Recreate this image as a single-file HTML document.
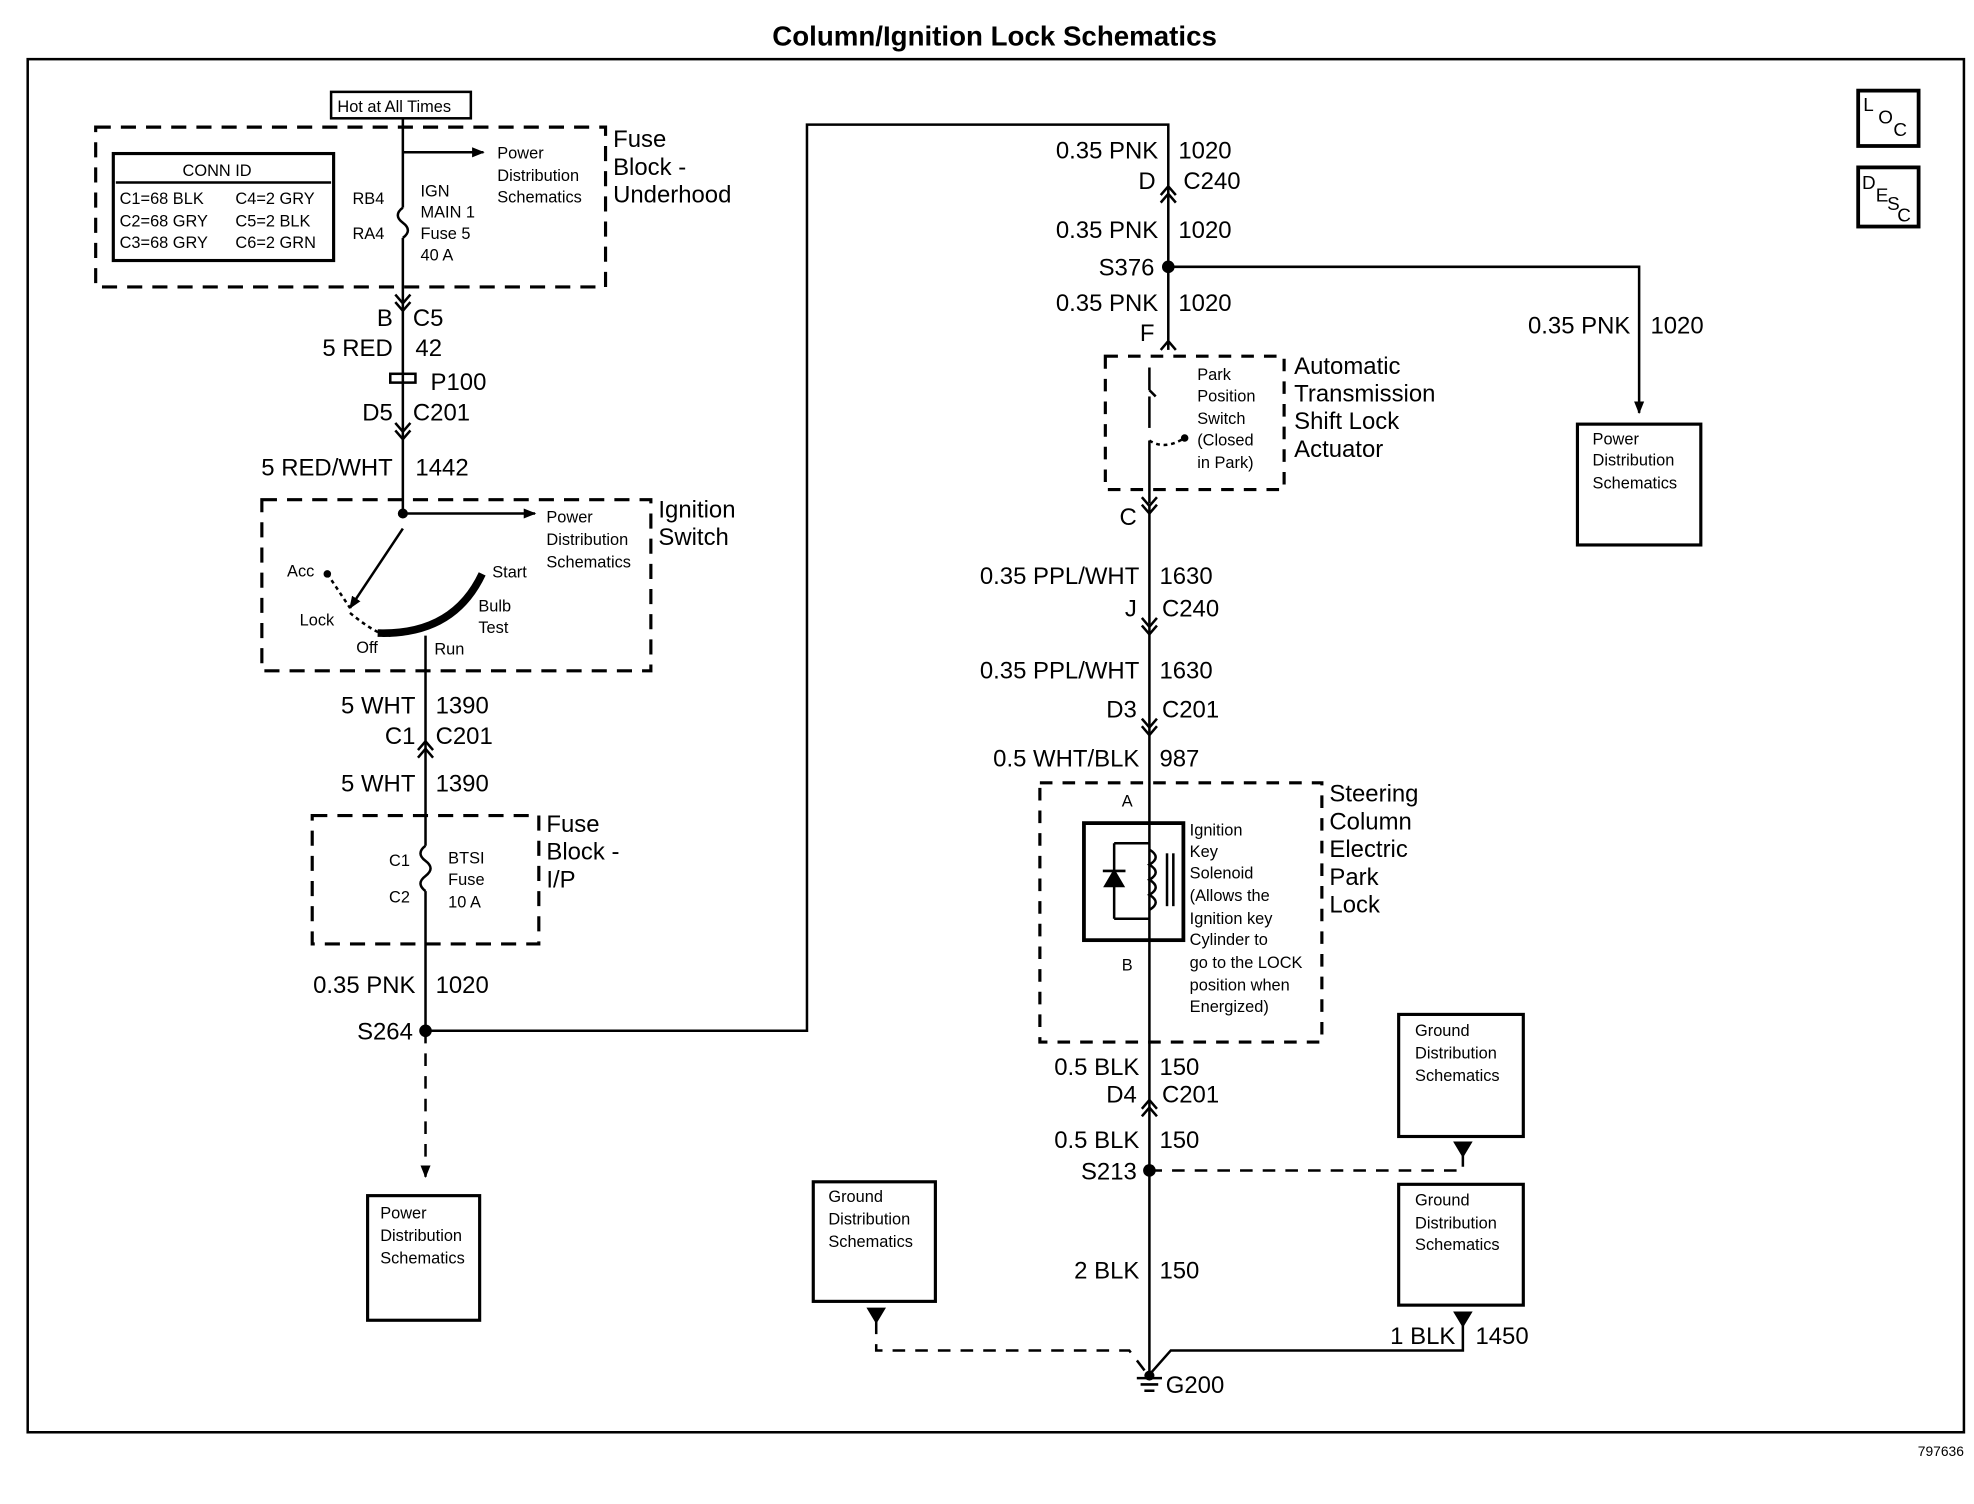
<!DOCTYPE html>
<html><head><meta charset="utf-8"><style>
html,body{margin:0;padding:0;background:#fff;}
svg{display:block;}
text{font-family:"Liberation Sans",Arial,sans-serif;fill:#000;}
.b{font-size:19px;}
.s{font-size:13px;}
.m{font-size:15px;}
</style></head><body>
<svg width="1974" height="1504" viewBox="0 0 1568 1195" preserveAspectRatio="none" xmlns="http://www.w3.org/2000/svg">
<defs>
<marker id="ar" markerWidth="10" markerHeight="10" refX="9" refY="5" orient="auto" markerUnits="userSpaceOnUse"><path d="M0,1 L10,5 L0,9 z" fill="#000"/></marker>
</defs>
<g stroke="#000" fill="none" stroke-width="2">
<rect x="22" y="47" width="1538" height="1091"/>
<rect x="1476" y="72" width="48" height="44" stroke-width="3"/>
<rect x="1476" y="133" width="48" height="47" stroke-width="3"/>
<!-- left -->
<rect x="263" y="73" width="111" height="21"/>
<rect x="76" y="101" width="405" height="127" stroke-dasharray="12,8" stroke-width="2.5"/>
<rect x="90" y="122" width="175" height="85" stroke-width="2.5"/>
<line x1="92" y1="145" x2="263" y2="145"/>
<line x1="320" y1="94" x2="320" y2="165"/>
<path d="M320,165 q-8,6 0,12 q8,6 0,12"/>
<line x1="320" y1="189" x2="320" y2="408" />
<line x1="320" y1="121" x2="384" y2="121" marker-end="url(#ar)"/>
<path d="M314,234 l6,7 l6,-7 M314,240 l6,7 l6,-7"/>
<rect x="310" y="297" width="20" height="7" stroke-width="2"/>
<path d="M314,336 l6,7 l6,-7 M314,342 l6,7 l6,-7"/>
<rect x="208" y="397" width="309" height="136" stroke-dasharray="12,8" stroke-width="2.5"/>
<line x1="320" y1="408" x2="425" y2="408" marker-end="url(#ar)"/>
<line x1="320" y1="420" x2="278" y2="483" marker-end="url(#ar)"/>
<path d="M278,487 Q300,505 310,505" stroke-dasharray="3,3"/>
<path d="M260,456 L278,483" stroke-dasharray="3,3"/>
<path d="M300,503 Q360,505 383,456" stroke-width="6"/>
<line x1="338" y1="505" x2="338" y2="672"/>
<path d="M332,596 l6,-7 l6,7 M332,602 l6,-7 l6,7"/>
<rect x="248" y="648" width="180" height="102" stroke-dasharray="12,8" stroke-width="2.5"/>
<path d="M338,672 q-8,6 0,12 q8,6 0,12 q-8,6 0,12"/>
<line x1="338" y1="708" x2="338" y2="819"/>
<polyline points="338,819 641,819 641,99 928,99 928,278"/>
<line x1="338" y1="819" x2="338" y2="935" stroke-dasharray="10,8" marker-end="url(#ar)"/>
<rect x="292" y="950" width="89" height="99" stroke-width="2.5"/>
<!-- right -->
<path d="M922,155 l6,-7 l6,7 M922,161 l6,-7 l6,7"/>
<polyline points="928,212 1302,212 1302,328" marker-end="url(#ar)"/>
<rect x="1253" y="337" width="98" height="96" stroke-width="2.5"/>
<path d="M922,278 l6,-7 l6,7"/>
<rect x="878" y="283" width="142" height="106" stroke-dasharray="10,8" stroke-width="2.5"/>
<line x1="913" y1="292" x2="913" y2="310"/>
<line x1="913" y1="315" x2="913" y2="340"/>
<path d="M913,310 l5,5" />
<path d="M913,350 q12,8 28,-2" stroke-dasharray="3,3"/>
<line x1="913" y1="350" x2="913" y2="400"/>
<path d="M907,395 l6,7 l6,-7 M907,401 l6,7 l6,-7"/>
<line x1="913" y1="402" x2="913" y2="648"/>
<path d="M907,491 l6,7 l6,-7 M907,497 l6,7 l6,-7"/>
<path d="M907,571 l6,7 l6,-7 M907,577 l6,7 l6,-7"/>
<rect x="826" y="622" width="224" height="206" stroke-dasharray="10,8" stroke-width="2.5"/>
<rect x="861" y="654" width="79" height="93" stroke-width="3"/>
<line x1="913" y1="648" x2="913" y2="1093"/>
<line x1="885" y1="670" x2="913" y2="670"/><line x1="885" y1="670" x2="885" y2="730"/><line x1="885" y1="730" x2="913" y2="730"/>
<path d="M878,704 l7,-12 l7,12 z M876,692 h18" fill="#000"/>
<path d="M913,675 q10,6 0,12 q10,6 0,12 q10,6 0,12 q10,6 0,12"/>
<line x1="927" y1="678" x2="927" y2="720"/><line x1="932" y1="678" x2="932" y2="720"/>
<path d="M907,881 l6,-7 l6,7 M907,887 l6,-7 l6,7"/>
<polyline points="913,930 1162,930 1162,912" stroke-dasharray="10,8"/>
<path d="M1156,908 h12 l-6,10 z" fill="#000"/>
<rect x="1111" y="806" width="99" height="97" stroke-width="2.5"/>
<rect x="1111" y="941" width="99" height="96" stroke-width="2.5"/>
<rect x="646" y="939" width="97" height="95" stroke-width="2.5"/>
<path d="M690,1040 h12 l-6,10 z" fill="#000"/>
<polyline points="696,1050 696,1073 897,1073 910,1090" stroke-dasharray="10,8"/>
<path d="M1156,1043 h12 l-6,10 z" fill="#000"/>
<polyline points="1162,1050 1162,1073 930,1073 915,1090"/>
<line x1="903" y1="1095" x2="923" y2="1095"/><line x1="906" y1="1100" x2="920" y2="1100"/><line x1="909" y1="1105" x2="917" y2="1105"/>
</g>
<g fill="#000"><circle cx="320" cy="408" r="4"/><circle cx="338" cy="819" r="5"/><circle cx="928" cy="212" r="5"/><circle cx="913" cy="930" r="5"/><circle cx="913" cy="1093" r="4"/><circle cx="260" cy="456" r="3"/><circle cx="941" cy="348" r="3"/></g>
<text x="790" y="36" text-anchor="middle" style="font-size:22px;font-weight:bold">Column/Ignition Lock Schematics</text>
<text x="1560" y="1157" text-anchor="end" style="font-size:11px">797636</text>
<text x="1480" y="88" class="m">L</text><text x="1492" y="98" class="m">O</text><text x="1504" y="108" class="m">C</text>
<text x="1479" y="150" class="m">D</text><text x="1490" y="160" class="m">E</text><text x="1499" y="167" class="m">S</text><text x="1507" y="176" class="m">C</text>
<g class="s">
<text x="268" y="89">Hot at All Times</text>
<text x="145" y="140">CONN ID</text>
<text x="95" y="162">C1=68 BLK</text><text x="187" y="162">C4=2 GRY</text>
<text x="95" y="180">C2=68 GRY</text><text x="187" y="180">C5=2 BLK</text>
<text x="95" y="197">C3=68 GRY</text><text x="187" y="197">C6=2 GRN</text>
<text x="280" y="162">RB4</text><text x="280" y="190">RA4</text>
<text x="334" y="156">IGN</text><text x="334" y="173">MAIN 1</text><text x="334" y="190">Fuse 5</text><text x="334" y="207">40 A</text>
<text x="395" y="126">Power</text><text x="395" y="144">Distribution</text><text x="395" y="161">Schematics</text>
<text x="434" y="415">Power</text><text x="434" y="433">Distribution</text><text x="434" y="451">Schematics</text>
<text x="228" y="458">Acc</text><text x="391" y="459">Start</text><text x="238" y="497">Lock</text><text x="380" y="486">Bulb</text><text x="380" y="503">Test</text><text x="283" y="519">Off</text><text x="345" y="520">Run</text>
<text x="309" y="688">C1</text><text x="309" y="717">C2</text>
<text x="356" y="686">BTSI</text><text x="356" y="703">Fuse</text><text x="356" y="721">10 A</text>
<text x="302" y="968">Power</text><text x="302" y="986">Distribution</text><text x="302" y="1004">Schematics</text>
<text x="951" y="302">Park</text><text x="951" y="319">Position</text><text x="951" y="337">Switch</text><text x="951" y="354">(Closed</text><text x="951" y="372">in Park)</text>
<text x="1265" y="353">Power</text><text x="1265" y="370">Distribution</text><text x="1265" y="388">Schematics</text>
<text x="891" y="641">A</text><text x="891" y="771">B</text>
<text x="945" y="664">Ignition</text><text x="945" y="681">Key</text><text x="945" y="698">Solenoid</text><text x="945" y="716">(Allows the</text><text x="945" y="734">Ignition key</text><text x="945" y="751">Cylinder to</text><text x="945" y="769">go to the LOCK</text><text x="945" y="787">position when</text><text x="945" y="804">Energized)</text>
<text x="1124" y="823">Ground</text><text x="1124" y="841">Distribution</text><text x="1124" y="859">Schematics</text>
<text x="1124" y="958">Ground</text><text x="1124" y="976">Distribution</text><text x="1124" y="993">Schematics</text>
<text x="658" y="955">Ground</text><text x="658" y="973">Distribution</text><text x="658" y="991">Schematics</text>
</g>
<g class="b">
<text x="487" y="117">Fuse</text><text x="487" y="139">Block -</text><text x="487" y="161">Underhood</text>
<text x="312" y="259" text-anchor="end">B</text><text x="328" y="259">C5</text>
<text x="312" y="283" text-anchor="end">5 RED</text><text x="330" y="283">42</text>
<text x="342" y="310">P100</text>
<text x="312" y="334" text-anchor="end">D5</text><text x="328" y="334">C201</text>
<text x="312" y="378" text-anchor="end">5 RED/WHT</text><text x="330" y="378">1442</text>
<text x="523" y="411">Ignition</text><text x="523" y="433">Switch</text>
<text x="330" y="567" text-anchor="end">5 WHT</text><text x="346" y="567">1390</text>
<text x="330" y="591" text-anchor="end">C1</text><text x="346" y="591">C201</text>
<text x="330" y="629" text-anchor="end">5 WHT</text><text x="346" y="629">1390</text>
<text x="434" y="661">Fuse</text><text x="434" y="683">Block -</text><text x="434" y="705">I/P</text>
<text x="330" y="789" text-anchor="end">0.35 PNK</text><text x="346" y="789">1020</text>
<text x="328" y="826" text-anchor="end">S264</text>
<text x="920" y="126" text-anchor="end">0.35 PNK</text><text x="936" y="126">1020</text>
<text x="918" y="150" text-anchor="end">D</text><text x="940" y="150">C240</text>
<text x="920" y="189" text-anchor="end">0.35 PNK</text><text x="936" y="189">1020</text>
<text x="917" y="219" text-anchor="end">S376</text>
<text x="920" y="247" text-anchor="end">0.35 PNK</text><text x="936" y="247">1020</text>
<text x="917" y="271" text-anchor="end">F</text>
<text x="1295" y="265" text-anchor="end">0.35 PNK</text><text x="1311" y="265">1020</text>
<text x="1028" y="297">Automatic</text><text x="1028" y="319">Transmission</text><text x="1028" y="341">Shift Lock</text><text x="1028" y="363">Actuator</text>
<text x="903" y="417" text-anchor="end">C</text>
<text x="905" y="464" text-anchor="end">0.35 PPL/WHT</text><text x="921" y="464">1630</text>
<text x="903" y="490" text-anchor="end">J</text><text x="923" y="490">C240</text>
<text x="905" y="539" text-anchor="end">0.35 PPL/WHT</text><text x="921" y="539">1630</text>
<text x="903" y="570" text-anchor="end">D3</text><text x="923" y="570">C201</text>
<text x="905" y="609" text-anchor="end">0.5 WHT/BLK</text><text x="921" y="609">987</text>
<text x="1056" y="637">Steering</text><text x="1056" y="659">Column</text><text x="1056" y="681">Electric</text><text x="1056" y="703">Park</text><text x="1056" y="725">Lock</text>
<text x="905" y="854" text-anchor="end">0.5 BLK</text><text x="921" y="854">150</text>
<text x="903" y="876" text-anchor="end">D4</text><text x="923" y="876">C201</text>
<text x="905" y="912" text-anchor="end">0.5 BLK</text><text x="921" y="912">150</text>
<text x="903" y="937" text-anchor="end">S213</text>
<text x="905" y="1016" text-anchor="end">2 BLK</text><text x="921" y="1016">150</text>
<text x="1156" y="1068" text-anchor="end">1 BLK</text><text x="1172" y="1068">1450</text>
<text x="926" y="1107">G200</text>
</g>
</svg>
</body></html>
